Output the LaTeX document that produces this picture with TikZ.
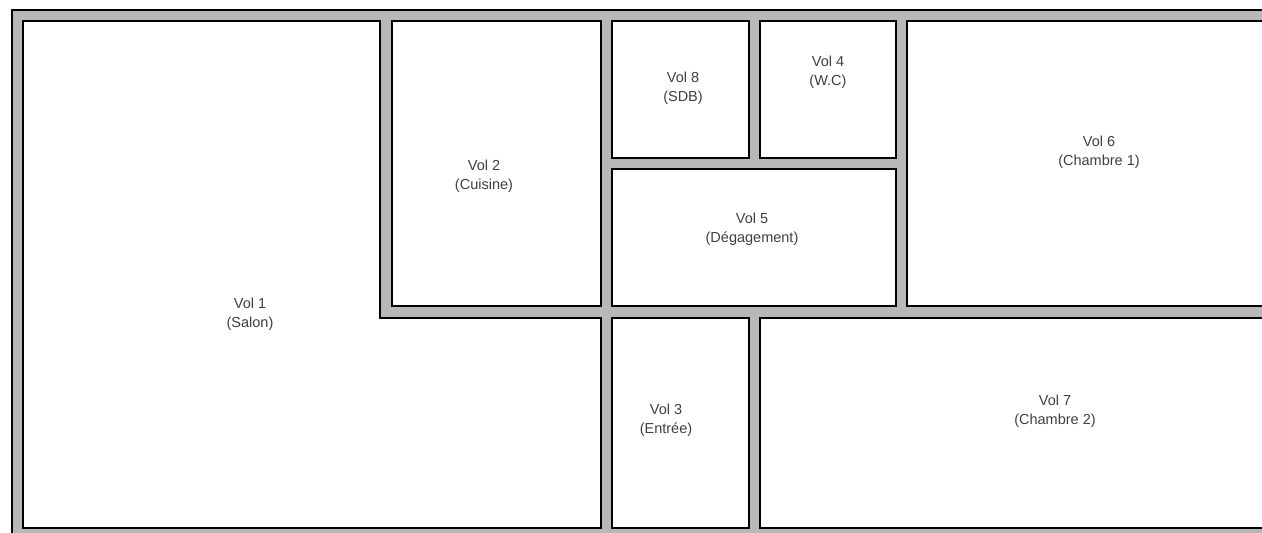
\documentclass[tikz,border=0pt]{standalone}
\usepackage{fontspec}
\setmainfont{Liberation Sans}
\definecolor{wallgray}{RGB}{184,184,184}
\definecolor{labelgray}{RGB}{64,64,64}
\begin{document}
\begin{tikzpicture}[x=1pt,y=-1pt,
  wall/.style={fill=wallgray,draw=black,line width=1.6pt},
  room/.style={fill=white,draw=black,line width=1.6pt},
  lbl/.style={align=center,text=labelgray,font=\fontsize{14.5}{19}\selectfont,inner sep=0pt}]
\useasboundingbox (0,0) rectangle (1262,533);
\clip (0,0) rectangle (1262,533);
% outer walls
\path[wall] (12,10) rectangle (1320,580);
% rooms
\path[room] (23,21) -- (380,21) -- (380,318) -- (601,318) -- (601,528) -- (23,528) -- cycle;
\path[room] (392,21) rectangle (601,306);
\path[room] (612,21) rectangle (749,158);
\path[room] (760,21) rectangle (896,158);
\path[room] (612,169) rectangle (896,306);
\path[room] (907,21) rectangle (1320,306);
\path[room] (612,318) rectangle (749,528);
\path[room] (760,318) rectangle (1320,528);
% labels
\node[lbl] (v1) at (250,314) {Vol 1\\(Salon)};
\node[lbl] (v2) at (484,176) {Vol 2\\(Cuisine)};
\node[lbl] (v8) at (683,88) {Vol 8\\(SDB)};
\node[lbl] (v4) at (828,72) {Vol 4\\(W.C)};
\node[lbl] (v6) at (1099,152) {Vol 6\\(Chambre 1)};
\node[lbl] (v5) at (752,229) {Vol 5\\(Dégagement)};
\node[lbl] (v3) at (666,420) {Vol 3\\(Entrée)};
\node[lbl] (v7) at (1055,411) {Vol 7\\(Chambre 2)};
\end{tikzpicture}
\end{document}
